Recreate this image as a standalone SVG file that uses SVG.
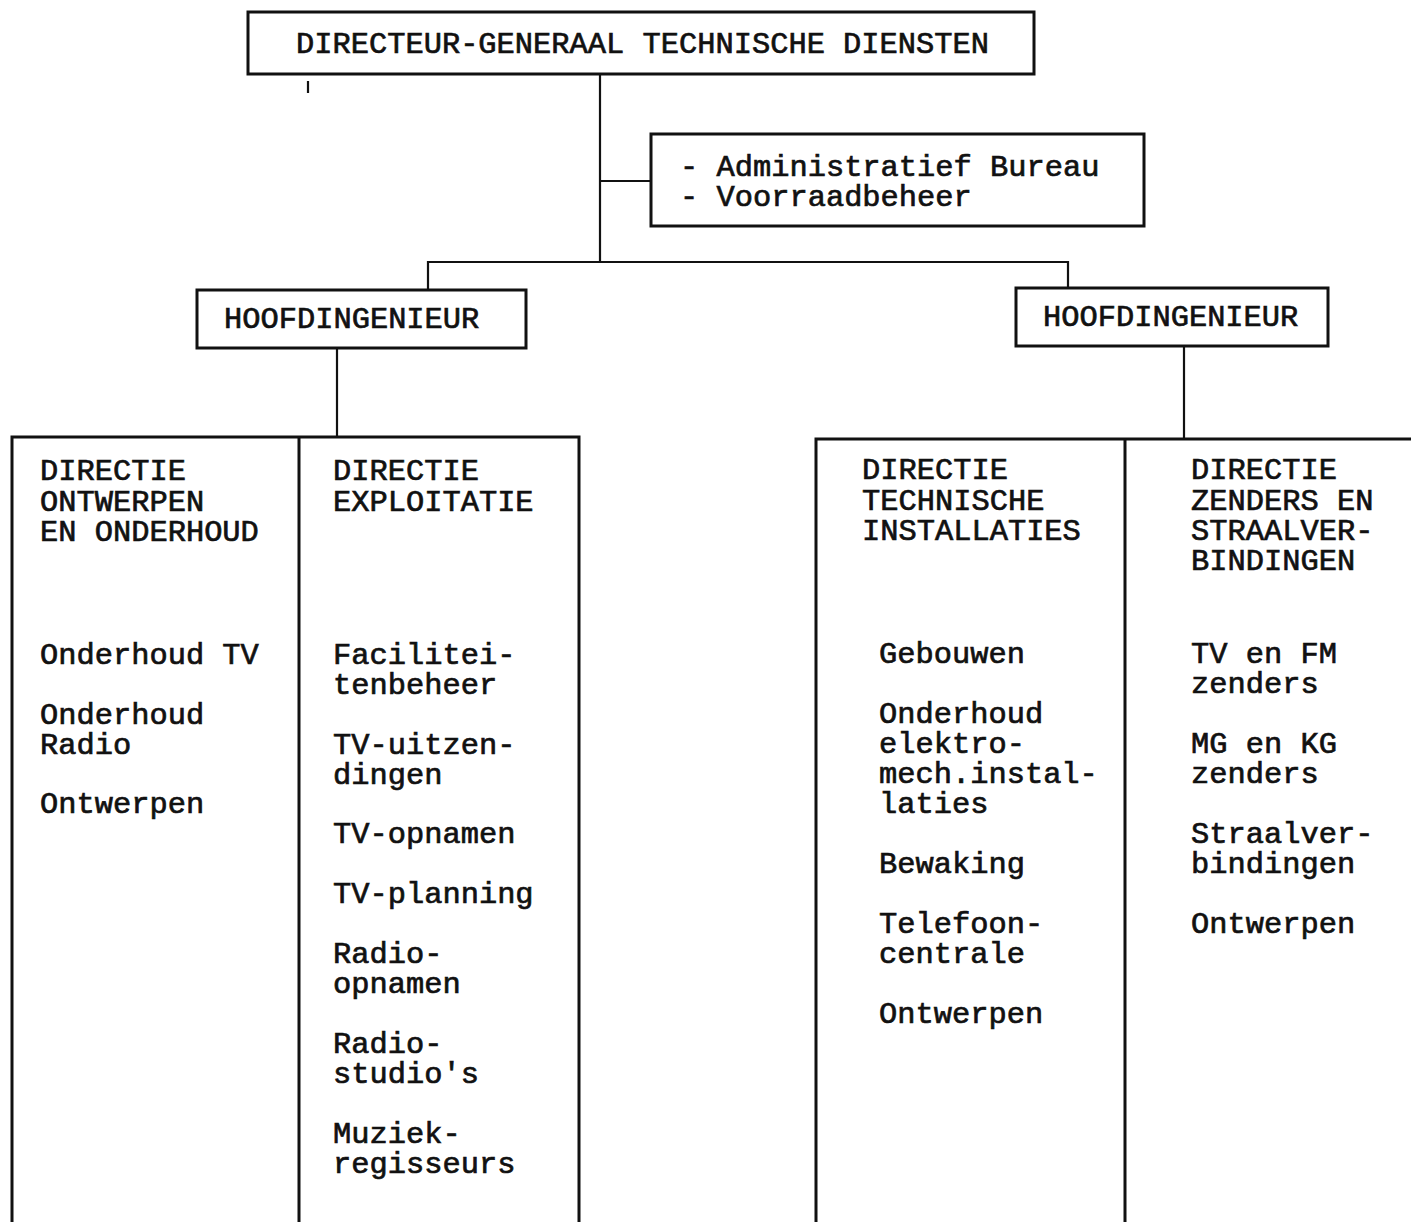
<svg xmlns="http://www.w3.org/2000/svg" width="1411" height="1222" viewBox="0 0 1411 1222">
<style>
  .box { fill: none; stroke: #111; stroke-width: 3; }
  .con { fill: none; stroke: #111; stroke-width: 2.2; }
  text { font-family: "Liberation Mono", "DejaVu Sans Mono", monospace; font-size: 30.4px; fill: #111; stroke: #111; stroke-width: 0.7px; }
</style>
<rect width="1411" height="1222" fill="#fff"/>
<g id="connectors">
  <line class="con" x1="600" y1="74" x2="600" y2="263"/>
  <line class="con" x1="600" y1="181" x2="651" y2="181"/>
  <polyline class="con" points="428,290 428,262 1068,262 1068,288"/>
  <line class="con" x1="337" y1="348" x2="337" y2="437"/>
  <line class="con" x1="1184" y1="346" x2="1184" y2="439"/>
  <line class="con" x1="308" y1="81" x2="308" y2="93" stroke-width="1.2"/>
</g>
<g id="dg">
  <rect class="box" x="248" y="12" width="786" height="62" fill="#fff"/>
  <text x="296" y="53">DIRECTEUR-GENERAAL TECHNISCHE DIENSTEN</text>
</g>
<g id="admin">
  <rect class="box" x="651" y="134" width="493" height="92"/>
  <text x="680" y="176">- Administratief Bureau<tspan x="680" dy="30">- Voorraadbeheer</tspan></text>
</g>
<g id="hi-left">
  <rect class="box" x="197" y="290" width="329" height="58"/>
  <text x="224" y="328">HOOFDINGENIEUR</text>
</g>
<g id="hi-right">
  <rect class="box" x="1016" y="288" width="312" height="58"/>
  <text x="1043" y="326">HOOFDINGENIEUR</text>
</g>
<g id="left-block">
  <polyline class="box" points="12,1225 12,437 579,437 579,1225"/>
  <line class="box" x1="299" y1="437" x2="299" y2="1225"/>
</g>
<g id="dir-ontwerpen">
  <text x="40" y="480">DIRECTIE<tspan x="40" dy="31">ONTWERPEN</tspan><tspan x="40" dy="30">EN ONDERHOUD</tspan></text>
  <text x="40" y="664">Onderhoud TV</text>
  <text x="40" y="724">Onderhoud<tspan x="40" dy="30">Radio</tspan></text>
  <text x="40" y="813">Ontwerpen</text>
</g>
<g id="dir-exploitatie">
  <text x="333" y="480">DIRECTIE<tspan x="333" dy="31">EXPLOITATIE</tspan></text>
  <text x="333" y="664">Facilitei-<tspan x="333" dy="30">tenbeheer</tspan></text>
  <text x="333" y="754">TV-uitzen-<tspan x="333" dy="30">dingen</tspan></text>
  <text x="333" y="843">TV-opnamen</text>
  <text x="333" y="903">TV-planning</text>
  <text x="333" y="963">Radio-<tspan x="333" dy="30">opnamen</tspan></text>
  <text x="333" y="1053">Radio-<tspan x="333" dy="30">studio's</tspan></text>
  <text x="333" y="1143">Muziek-<tspan x="333" dy="30">regisseurs</tspan></text>
</g>
<g id="right-block">
  <polyline class="box" points="816,1225 816,439 1415,439"/>
  <line class="box" x1="1125" y1="439" x2="1125" y2="1225"/>
</g>
<g id="dir-technische">
  <text x="862" y="479">DIRECTIE<tspan x="862" dy="31">TECHNISCHE</tspan><tspan x="862" dy="30">INSTALLATIES</tspan></text>
  <text x="879" y="663">Gebouwen</text>
  <text x="879" y="723">Onderhoud<tspan x="879" dy="30">elektro-</tspan><tspan x="879" dy="30">mech.instal-</tspan><tspan x="879" dy="30">laties</tspan></text>
  <text x="879" y="873">Bewaking</text>
  <text x="879" y="933">Telefoon-<tspan x="879" dy="30">centrale</tspan></text>
  <text x="879" y="1023">Ontwerpen</text>
</g>
<g id="dir-zenders">
  <text x="1191" y="479">DIRECTIE<tspan x="1191" dy="31">ZENDERS EN</tspan><tspan x="1191" dy="30">STRAALVER-</tspan><tspan x="1191" dy="30">BINDINGEN</tspan></text>
  <text x="1191" y="663">TV en FM<tspan x="1191" dy="30">zenders</tspan></text>
  <text x="1191" y="753">MG en KG<tspan x="1191" dy="30">zenders</tspan></text>
  <text x="1191" y="843">Straalver-<tspan x="1191" dy="30">bindingen</tspan></text>
  <text x="1191" y="933">Ontwerpen</text>
</g>
</svg>
